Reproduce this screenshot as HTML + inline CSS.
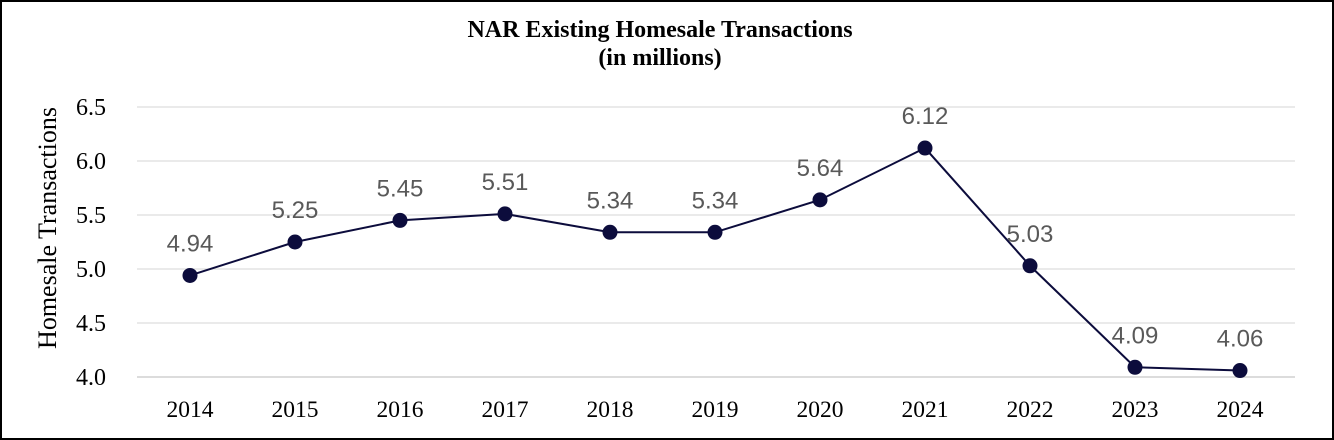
<!DOCTYPE html>
<html><head><meta charset="utf-8"><style>
html,body{margin:0;padding:0;background:#fff;}
svg{display:block;}
</style></head><body>
<svg width="1334" height="440" xmlns="http://www.w3.org/2000/svg">
<rect x="1" y="1" width="1332" height="438" fill="#fff" stroke="#000" stroke-width="2"/>
<text x="660" y="37" text-anchor="middle" font-family="Liberation Serif, serif" font-weight="bold" font-size="24">NAR Existing Homesale Transactions</text>
<text x="660" y="65" text-anchor="middle" font-family="Liberation Serif, serif" font-weight="bold" font-size="24">(in millions)</text>
<text transform="translate(56,228) rotate(-90)" text-anchor="middle" font-family="Liberation Serif, serif" font-size="26">Homesale Transactions</text>
<g id="grid"></g><g id="yt"></g><g id="xt"></g><g id="series"></g>
</svg>
<script>
const categories=["2014","2015","2016","2017","2018","2019","2020","2021","2022","2023","2024"];
const values=[4.94,5.25,5.45,5.51,5.34,5.34,5.64,6.12,5.03,4.09,4.06];
const labels=["4.94","5.25","5.45","5.51","5.34","5.34","5.64","6.12","5.03","4.09","4.06"];
const yTicks=[4.0,4.5,5.0,5.5,6.0,6.5];
const yTickLabels=["4.0","4.5","5.0","5.5","6.0","6.5"];
const NS="http://www.w3.org/2000/svg";
function y(v){return 377-(v-4.0)*108;}
function x(i){return 190+i*105;}
function mk(t,a,p){const e=document.createElementNS(NS,t);for(const k in a)e.setAttribute(k,a[k]);p.appendChild(e);return e;}
const grid=document.getElementById('grid'),yt=document.getElementById('yt'),xt=document.getElementById('xt'),s=document.getElementById('series');
yTicks.forEach((v,i)=>{
 const l=mk('line',{x1:137,x2:1295,y1:y(v),y2:y(v),stroke:i==0?'#d0d0d0':'#e3e3e3','stroke-width':1.5},grid);
 
 
 const t=mk('text',{x:106,y:y(v)+8,'text-anchor':'end','font-family':'Liberation Serif, serif','font-size':24},yt);
 t.textContent=yTickLabels[i];
 
 
});
categories.forEach((c,i)=>{
 const t=mk('text',{x:x(i),y:417,'text-anchor':'middle','font-family':'Liberation Serif, serif','font-size':23.5},xt);
 t.textContent=c;
 
 
});
const pl=mk('polyline',{points:values.map((v,i)=>x(i)+','+y(v)).join(' '),fill:'none',stroke:'#0c0c3c','stroke-width':2},s);


values.forEach((v,i)=>{
 const c=mk('circle',{cx:x(i),cy:y(v),r:7.5,fill:'#0c0c3c'},s);
 
 
 const t=mk('text',{x:x(i),y:y(v)-24,'text-anchor':'middle','font-family':'Liberation Sans, sans-serif','font-size':24,fill:'#595959'},s);
 t.textContent=labels[i];
 
 
});
</script>
</body></html>
